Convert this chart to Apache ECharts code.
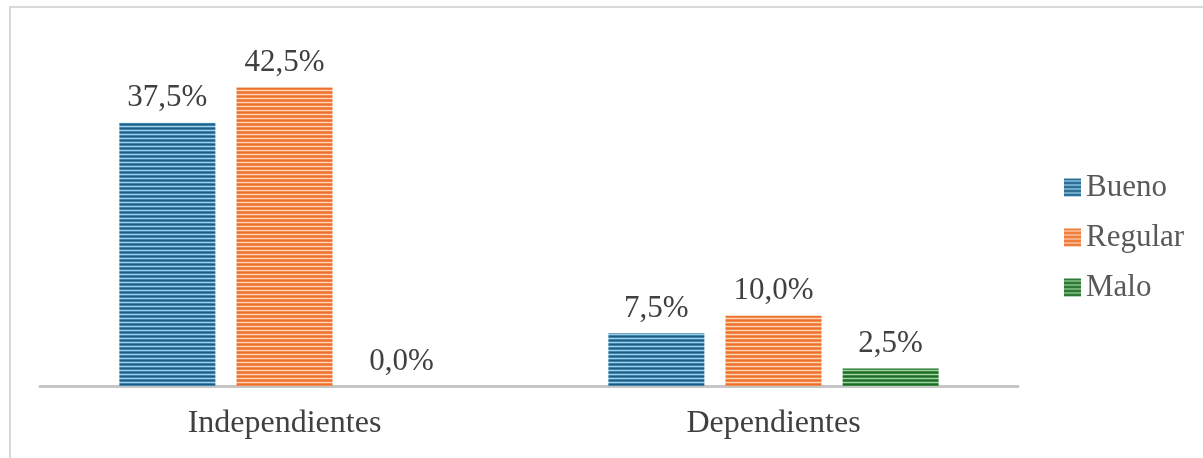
<!DOCTYPE html>
<html>
<head>
<meta charset="utf-8">
<script src="https://cdn.jsdelivr.net/npm/echarts@6/dist/echarts.min.js"></script>
<style>
    html, body { margin: 0; padding: 0; background: #fff; }
    #chart { width: 1203px; height: 458px; }
</style>
</head>
<body>
<div id="chart"></div>
<script>
const categories = ['Independientes', 'Dependientes']
const seriesNames = ['Bueno', 'Regular', 'Malo']
const bueno = [37.5, 7.5]
const regular = [42.5, 10.0]
const malo = [0.0, 2.5]

// striped fill like the original's horizontal-line pattern
function stripes(dark, mid, light) {
    const c = document.createElement('canvas')
    c.width = 4
    c.height = 4
    const ctx = c.getContext('2d')
    ctx.fillStyle = light
    ctx.fillRect(0, 0, 4, 4)
    ctx.fillStyle = dark
    ctx.fillRect(0, 0, 4, 1)
    ctx.fillStyle = mid
    ctx.fillRect(0, 1, 4, 1)
    ctx.fillRect(0, 3, 4, 1)
    return { image: c, repeat: 'repeat' }
}

const fills = [
    stripes('#1d5d84', '#3f85ad', '#9fd0e6'),
    stripes('#ee6f2a', '#f28b4e', '#fcd2b6'),
    stripes('#1e6b28', '#3d8a45', '#a3d3a3')
]

const fmt = (v) => v.toFixed(1).replace('.', ',') + '%'
const txt = '#404040'
const data = [bueno, regular, malo]

const myChart = echarts.init(document.getElementById('chart'))
const option = {
    animation: false,
    backgroundColor: '#ffffff',
    graphic: [
        {
            type: 'rect',
            shape: { x: 10, y: 7, width: 1240, height: 500 },
            style: { fill: 'none', stroke: '#d9d9d9', lineWidth: 2 },
            silent: true
        }
    ],
    legend: {
        orient: 'vertical',
        left: 1059,
        top: 167,
        itemGap: 19,
        itemWidth: 17,
        itemHeight: 18,
        icon: 'rect',
        textStyle: {
            fontFamily: 'Liberation Serif',
            fontSize: 31,
            color: '#595959',
            padding: [0, 0, 0, 0]
        },
        data: seriesNames
    },
    grid: {
        left: 40,
        right: 185,
        top: 70,
        bottom: 72,
        containLabel: false
    },
    xAxis: {
        type: 'category',
        data: categories,
        axisLine: { lineStyle: { color: '#c6c6c6', width: 3 } },
        axisTick: { show: false },
        axisLabel: {
            margin: 22,
            fontFamily: 'Liberation Serif',
            fontSize: 32,
            color: txt
        }
    },
    yAxis: {
        type: 'value',
        min: 0,
        max: 45,
        show: false
    },
    series: seriesNames.map((name, i) => ({
        name: name,
        type: 'bar',
        data: data[i],
        barWidth: 96,
        barGap: '22%',
        itemStyle: { color: fills[i] },
        label: {
            show: true,
            position: 'top',
            distance: 9,
            fontFamily: 'Liberation Serif',
            fontSize: 31,
            color: txt,
            formatter: (p) => fmt(p.value)
        }
    }))
}
myChart.setOption(option)
</script>
</body>
</html>
